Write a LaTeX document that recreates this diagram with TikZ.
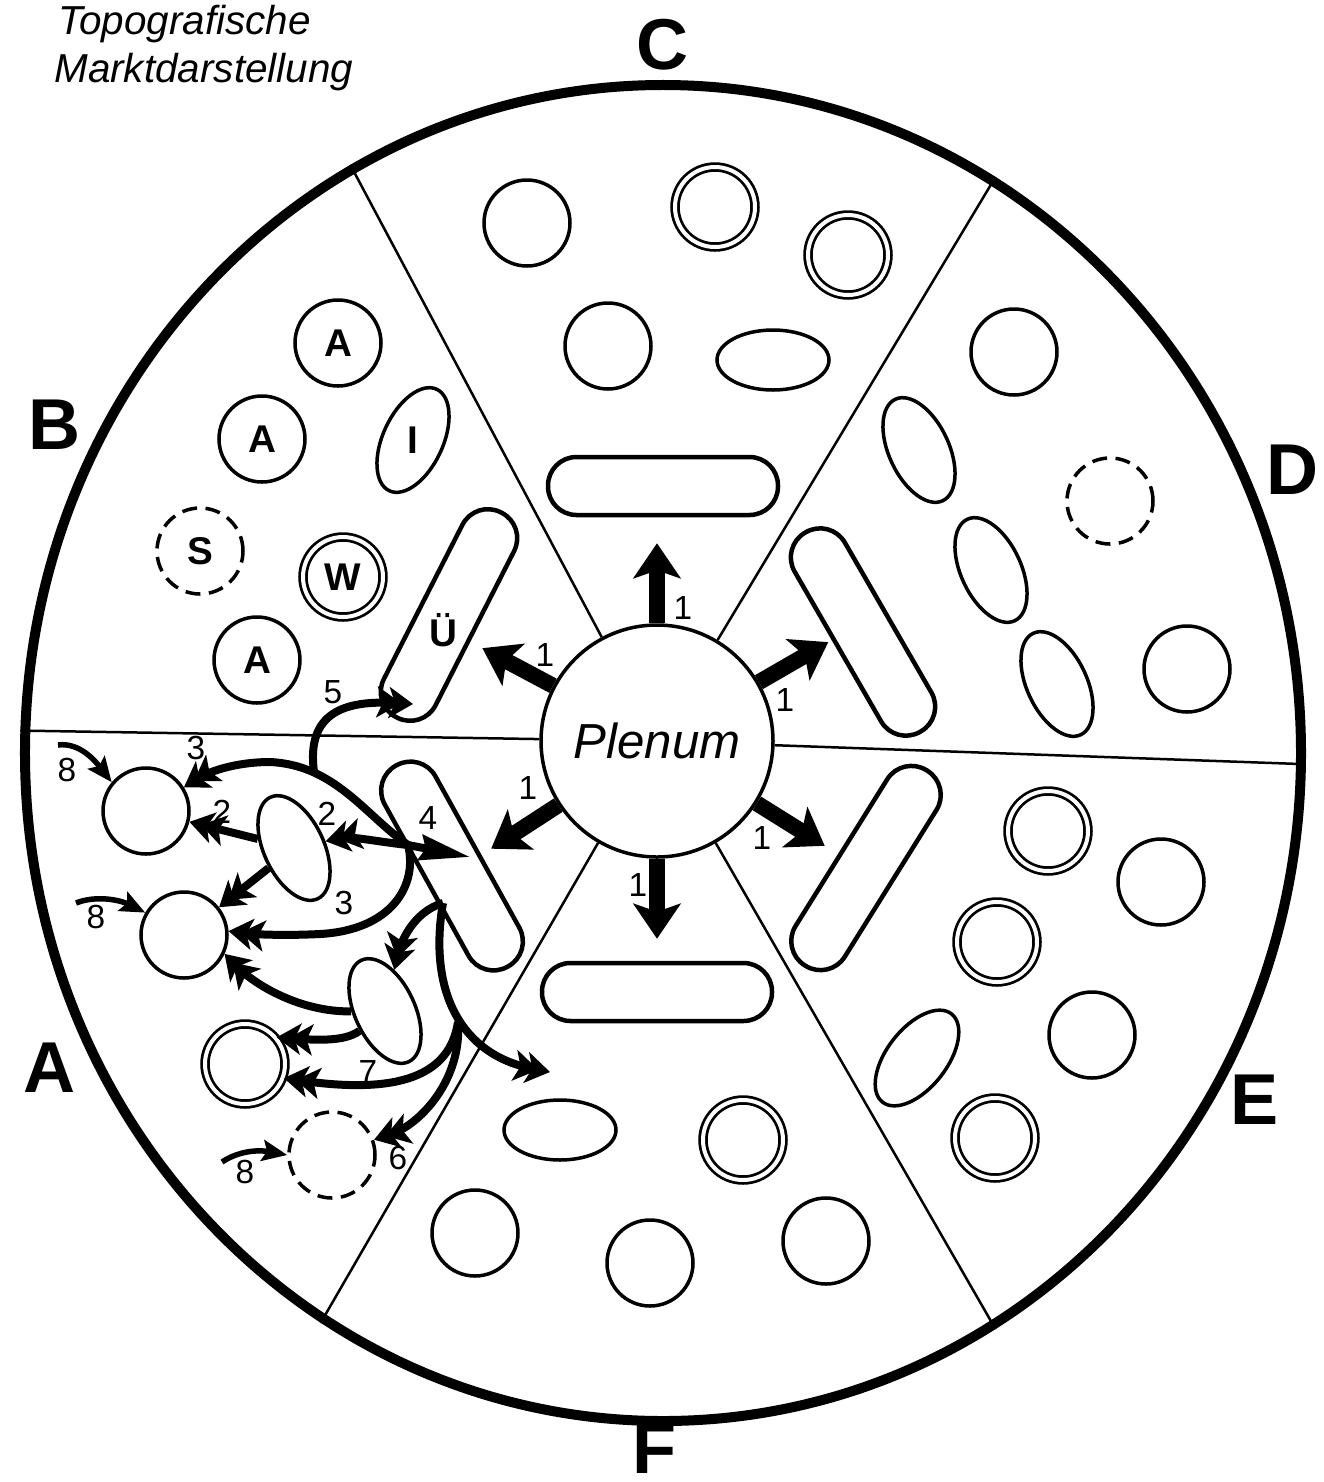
\documentclass[tikz,border=0pt]{standalone}
\usepackage{fontspec}
\setmainfont{Liberation Sans}
\usetikzlibrary{arrows.meta, shapes.geometric}

\begin{document}
\begin{tikzpicture}[
    x=0.2mm, y=-0.2mm,
    sector/.style={line width=0.5mm},
    ring/.style={draw, circle, fill=white, line width=0.7mm, minimum size=17.2mm, inner sep=0pt, font=\fontsize{22}{22}\selectfont\bfseries},
    dashring/.style={ring, dash pattern=on 3mm off 1.7mm},
    twin/.style={ring, minimum size=16mm, line width=0.55mm, double, double distance=0.8mm},
    oval/.style={draw, ellipse, fill=white, line width=0.7mm, minimum width=22.4mm, minimum height=12mm, inner sep=0pt},
    stadium/.style={draw, rectangle, fill=white, rounded corners=5.7mm, line width=0.9mm, minimum width=46mm, minimum height=11.6mm, inner sep=0pt},
    tag/.style={font=\fontsize{22}{22}\selectfont\bfseries},
    sect/.style={font=\fontsize{41}{41}\selectfont\bfseries, inner sep=0pt},
    num/.style={font=\fontsize{19}{19}\selectfont, inner sep=0pt},
    hand/.style={font=\fontsize{23}{23}\selectfont\itshape, anchor=base west, inner sep=0pt},
    plarr/.style={line width=3.2mm, -{Stealth[length=7mm, width=9.4mm, inset=1.6mm]}},
    flow/.style={line width=1.6mm, -{Stealth[length=4.8mm, width=6.2mm, inset=1.2mm, sep=-2.4mm] Stealth[length=4.8mm, width=6.2mm, inset=1.2mm]}},
    push/.style={line width=1.6mm, -{Stealth[length=10mm, width=5mm, inset=1mm]}},
    entry/.style={line width=1.1mm, -{Stealth[length=5mm, width=4.2mm, inset=0.9mm]}}
]
\useasboundingbox (0,0) rectangle (1324,1482);

% Title
\node[hand] (title1) at (58,34) {Topografische};
\node[hand] (title2) at (54,82) {Marktdarstellung};

% Market, plenum and sectors
\node[draw, ellipse, line width=2mm, minimum width=255.2mm, minimum height=267.2mm, inner sep=0pt] (market) at (663,753) {};
\node[draw, circle, line width=0.7mm, minimum size=46.4mm, inner sep=0pt, font=\fontsize{28}{28}\selectfont\itshape] (plenum) at (657,741) {Plenum};
\foreach \a in {118, 60, 178, -1, 239, -60} {
    \draw[sector] (plenum) -- (market.\a);
}

% Sector letters
\foreach \l/\x/\y in {C/663/45, B/55/425, D/1293/470, A/50/1068, E/1255/1100, F/655/1449} {
    \node[sect] (lab\l) at (\x,\y) {\l};
}

% Sector C
\node[ring] (c1) at (527,223) {};
\node[twin] (c2) at (715,207) {};
\node[twin] (c3) at (848,255) {};
\node[ring] (c4) at (608,346) {};
\node[oval] (c5) at (773,360) {};
\node[stadium] (stC) at (663,486) {};

% Sector D
\node[ring] (d1) at (1014,352) {};
\node[oval, rotate=115] (d2) at (919,450) {};
\node[dashring] (d3) at (1110,501) {};
\node[oval, rotate=115] (d4) at (991,570) {};
\node[oval, rotate=115] (d5) at (1057,684) {};
\node[ring] (d6) at (1187,669) {};
\node[stadium, rotate=-60] (stD) at (863,632) {};

% Sector E
\node[stadium, rotate=58] (stE) at (866,868) {};
\node[twin] (e1) at (1048,831) {};
\node[ring] (e2) at (1161,882) {};
\node[twin] (e3) at (997,942) {};
\node[ring] (e4) at (1092,1035) {};
\node[oval, rotate=52] (e5) at (917,1058) {};
\node[twin] (e6) at (995,1138) {};

% Sector F
\node[stadium] (stF) at (657,992) {};
\node[oval] (f1) at (560,1130) {};
\node[twin] (f2) at (743,1140) {};
\node[ring] (f3) at (475,1233) {};
\node[ring] (f4) at (650,1263) {};
\node[ring] (f5) at (826,1241) {};

% Sector B
\node[ring] (b1) at (338,343) {A};
\node[ring] (b2) at (262,439) {A};
\node[oval, rotate=65] (b3) at (413,440) {};
\node[tag] (b3t) at (b3) {I};
\node[dashring] (b4) at (200,551) {S};
\node[twin] (b5) at (343,577) {W};
\node[ring] (b6) at (257,660) {A};
\node[stadium, rotate=63] (stB) at (449,615) {};
\node[tag] (stBt) at (443,630) {Ü};

% Sector A
\node[ring] (a1) at (146,811) {};
\node[ring] (a2) at (184,935) {};
\node[oval, rotate=115] (a3) at (294,848) {};
\node[oval, rotate=115] (a4) at (385,1011) {};
\node[twin] (a5) at (245,1064) {};
\node[dashring] (a6) at (332,1155) {};
\node[stadium, rotate=-61] (stA) at (452,866) {};

% Plenum arrows
\foreach \a in {90, 152, 30, 213, 328, 270} {
    \draw[plarr] (plenum.\a) -- ++(\a:16mm);
}
\foreach \x/\y [count=\i] in {683/608, 545/655, 785/700, 528/788, 762/838, 638/885} {
    \node[num] (one\i) at (\x,\y) {1};
}

% Flows in sector A
\coordinate (hub) at (408,845);
\coordinate (fan) at (443,903);
\coordinate (split) at (458,1022);
\coordinate (j5) at (314,772);
\coordinate (t4) at (470,857);
\coordinate (t5) at (413,704);
\coordinate (t8) at (550,1072);
\coordinate (s8a) at (58,745);
\coordinate (s8b) at (76,903);
\coordinate (s8c) at (222,1162);

\draw[flow] (hub) .. controls (365,815) and (335,765) .. (270,762) .. controls (235,762) and (208,772) .. (a1.32);
\draw[flow] (j5) .. controls (306,712) and (345,700) .. (t5);
\draw[flow] (hub) .. controls (380,842) and (350,836) .. (a3);
\draw[flow] (a3) -- (a1);
\draw[flow] (a3) -- (a2);
\draw[push] (hub) -- (t4);
\draw[flow] (hub) .. controls (418,885) and (392,930) .. (320,934) .. controls (280,936) and (250,934) .. (a2.5);
\draw[flow] (a4) .. controls (300,1012) and (255,985) .. (a2.-25);
\draw[flow] (a4) .. controls (345,1042) and (315,1040) .. (a5.40);
\draw[flow] (fan) .. controls (412,912) and (400,945) .. (a4);
\draw[flow] (fan) .. controls (428,990) and (460,1055) .. (t8);
\draw[flow] (split) .. controls (450,1075) and (400,1095) .. (a5.-20);
\draw[flow] (split) .. controls (462,1080) and (420,1125) .. (a6.20);
\draw[entry] (s8a) .. controls (80,742) and (96,762) .. (a1.140);
\draw[entry] (s8b) .. controls (96,895) and (120,900) .. (a2.150);
\draw[entry] (s8c) .. controls (240,1150) and (260,1150) .. (a6.180);

% Flow labels
\foreach \t/\x/\y [count=\i] in {3/196/748, 2/222/812, 2/327/814, 4/428/818, 3/344/903, 5/333/692, 7/368/1072, 6/398/1158, 8/67/770, 8/96/917, 8/245/1172} {
    \node[num] (fl\i) at (\x,\y) {\t};
}

\end{tikzpicture}
\end{document}
